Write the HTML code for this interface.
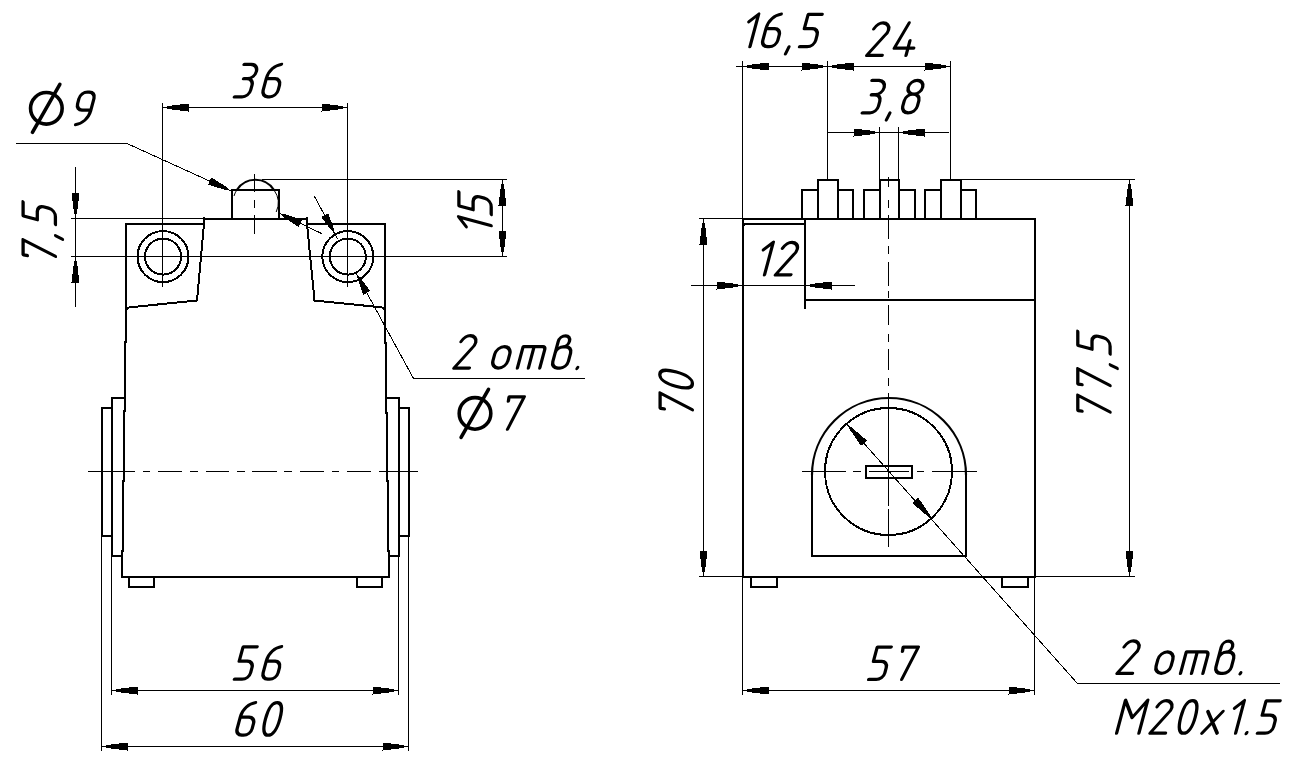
<!DOCTYPE html>
<html><head><meta charset="utf-8"><title>drawing</title>
<style>html,body{margin:0;padding:0;background:#fff;overflow:hidden}svg{display:block}</style>
</head><body>
<svg width="1296" height="771" viewBox="0 0 1296 771">
<rect width="1296" height="771" fill="#fff"/>
<g fill="none" stroke="#000" stroke-width="1" shape-rendering="crispEdges" stroke-linecap="butt">
<path d="M162.5,103 V286.5 M347.5,103 V286.5 M162,107.5 H348 M16,143.5 H127 L231.5,191 M278.6,213 L321.8,233.6 M262,179.5 H507 M71,218.5 H204 M71,256.5 H507 M502.5,179.5 V256.5 M75.5,167 V306.5 M254.5,174 V192 M254.5,200 V208 M254.5,215 V234 M88.1,471.5 H135.4 M142.7,471.5 H149.7 M158.3,471.5 H182.1 M190.2,471.5 H198.0 M205.6,471.5 H228.5 M237.2,471.5 H244.7 M252.0,471.5 H277.1 M284.4,471.5 H292.0 M300.0,471.5 H324.4 M331.7,471.5 H339.2 M346.8,471.5 H371.1 M379.2,471.5 H417.6 M111.5,556 V694.5 M398.5,556 V694.5 M101.5,536 V750.5 M408.5,536 V750.5 M111,690.5 H399 M101,746.5 H409 M585,378.5 H413.5 L356.3,273.5 M314.4,196.3 L337.5,239 M742.5,61 V219 M827.5,61 V180 M950.5,61 V180 M736,66.5 H951 M879.5,127 V180 M898.5,127 V180 M827.5,132.5 H948.5 M961,179.5 H1135 M699,218.5 H743 M699,576.5 H743 M1035,576.5 H1135 M703.5,218.5 V576.5 M1129.5,179.5 V576.5 M691,285.5 H855 M888.5,176.9 V186.7 M888.5,200.0 V208.1 M888.5,215.0 V239.0 M888.5,246.3 V253.9 M888.5,262.2 V286.2 M888.5,291.3 V298.0 M888.5,305.3 V325.4 M888.5,333.6 V341.8 M888.5,349.0 V370.0 M888.5,378.0 V386.3 M888.5,392.6 V506.3 M888.5,509.0 V547.0 M802.0,471.5 H846.0 M852.9,471.5 H861.0 M869.0,471.5 H909.0 M916.7,471.5 H924.3 M932.1,471.5 H976.8 M742.5,577 V695 M1034.5,577 V695 M742,690.5 H1035 M847.3,424.6 L1077.5,683.5 H1280"/>
</g>
<g fill="none" stroke="#000" stroke-width="2" shape-rendering="crispEdges" stroke-linecap="square" stroke-linejoin="miter">
<path d="M232,190 H279 V219 M232,190 V219 M204,219 H307 M204,218 V224 M307,218 V224 M126,224 H204 L197,300.5 L130,307.3 Q126,307.8 126,311 M126,224 V342 H125 V411 H124 V481 H123 V551 H122 V577 H389 V551 H388 V481 H387 V413 H386 V343 H385 V224 H307 L314.5,300.5 L381,307.3 Q385,307.8 385,311 M125,398 H112 V556 H122 M112,408 H102 V536 H112 M386,398 H399 V556 H389 M399,408 H409 V536 H399 M129,577 V587 H154 V577 M357,577 V587 H382 V577 M743,219 H1035 V577 H743 Z M743,228 Q743,224 746,224 H802 Q805,224 805,227 M805,219 V307.5 M805,300 H1035 M802,219 V190 H818 V180 H838 V190 H853 V219 M818,190 V219 M838,190 V219 M864,219 V190 H880 V180 H899 V190 H915 V219 M880,190 V219 M899,190 V219 M925,219 V190 H941 V180 H961 V190 H976 V219 M941,190 V219 M961,190 V219 M812,475 V556 H966 V475 M866,466 H912 V478 H866 Z M751,577 V587 H777 V577 M1002,577 V587 H1028 V577"/>
</g>
<g fill="none" stroke="#000" stroke-width="2" shape-rendering="crispEdges">
<circle cx="163" cy="256.6" r="25.5"/><circle cx="163" cy="256.6" r="18"/><circle cx="347.8" cy="256.6" r="25.5"/><circle cx="347.8" cy="256.6" r="18"/><circle cx="888.5" cy="471.5" r="63.5"/>
</g>
<g fill="none" stroke="#000" stroke-width="2.2" shape-rendering="geometricPrecision">
<path d="M236.8,190 A22,22 0 0 1 274,190 M812,475 A77,77 0 0 1 966,475"/>
</g>
<g fill="none" stroke="#000" stroke-width="1" shape-rendering="geometricPrecision">
<path d="M274,190 A22,22 0 0 1 276.2,212 M236.8,190 A22,22 0 0 0 234,196"/>
</g>
<g fill="#000" stroke="none" shape-rendering="crispEdges">
<polygon points="163.00,107.50 169.00,109.10 188.50,111.50 188.50,103.50 169.00,105.90"/><polygon points="347.00,107.50 341.00,105.90 321.50,103.50 321.50,111.50 341.00,109.10"/><polygon points="231.04,190.79 226.24,186.85 211.31,177.43 208.00,184.71 224.92,189.77"/><polygon points="279.05,213.22 283.78,217.24 298.54,226.94 301.98,219.72 285.16,214.35"/><polygon points="502.50,180.00 500.90,186.00 498.50,205.50 506.50,205.50 504.10,186.00"/><polygon points="502.50,256.00 504.10,250.00 506.50,230.50 498.50,230.50 500.90,250.00"/><polygon points="75.50,218.00 77.10,212.00 79.50,192.50 71.50,192.50 73.90,212.00"/><polygon points="75.50,257.00 73.90,263.00 71.50,282.50 79.50,282.50 77.10,263.00"/><polygon points="112.00,690.50 118.00,692.10 137.50,694.50 137.50,686.50 118.00,688.90"/><polygon points="398.00,690.50 392.00,688.90 372.50,686.50 372.50,694.50 392.00,692.10"/><polygon points="102.00,746.50 108.00,748.10 127.50,750.50 127.50,742.50 108.00,744.90"/><polygon points="408.00,746.50 402.00,744.90 382.50,742.50 382.50,750.50 402.00,748.10"/><polygon points="356.54,273.94 358.00,279.97 363.31,294.73 370.34,290.91 360.81,278.44"/><polygon points="334.96,233.96 333.49,227.93 328.17,213.17 321.15,217.01 330.68,229.46"/><polygon points="743.00,66.50 749.00,68.10 768.50,70.50 768.50,62.50 749.00,64.90"/><polygon points="827.00,66.50 821.00,64.90 801.50,62.50 801.50,70.50 821.00,68.10"/><polygon points="828.00,66.50 834.00,68.10 853.50,70.50 853.50,62.50 834.00,64.90"/><polygon points="950.00,66.50 944.00,64.90 924.50,62.50 924.50,70.50 944.00,68.10"/><polygon points="879.00,132.50 873.00,130.90 853.50,128.50 853.50,136.50 873.00,134.10"/><polygon points="899.00,132.50 905.00,134.10 924.50,136.50 924.50,128.50 905.00,130.90"/><polygon points="703.50,219.00 701.90,225.00 699.50,244.50 707.50,244.50 705.10,225.00"/><polygon points="703.50,576.00 705.10,570.00 707.50,550.50 699.50,550.50 701.90,570.00"/><polygon points="1129.50,180.00 1127.90,186.00 1125.50,205.50 1133.50,205.50 1131.10,186.00"/><polygon points="1129.50,576.00 1131.10,570.00 1133.50,550.50 1125.50,550.50 1127.90,570.00"/><polygon points="742.00,285.50 736.00,283.90 716.50,281.50 716.50,289.50 736.00,287.10"/><polygon points="806.00,285.50 812.00,287.10 831.50,289.50 831.50,281.50 812.00,283.90"/><polygon points="743.00,690.50 749.00,692.10 768.50,694.50 768.50,686.50 749.00,688.90"/><polygon points="1034.00,690.50 1028.00,688.90 1008.50,686.50 1008.50,694.50 1028.00,692.10"/><polygon points="847.63,424.97 850.45,430.51 861.02,445.88 866.97,440.54 852.83,428.37"/><polygon points="931.57,518.53 928.75,512.99 918.18,497.62 912.23,502.96 926.37,515.13"/>
</g>
<g fill="none" stroke="#000" stroke-width="3.3" stroke-linecap="round" stroke-linejoin="round">
<g transform="translate(0,96.8) skewX(-15)"><path transform="translate(234.40,0)" d="M1,-32.5 H8 A7.2,7.2 0 0 1 8,-18.1 H4.3 M8,-18.1 A6.5,6.5 0 0 1 14.5,-11.6 V-6.5 A6.5,6.5 0 0 1 8,0 H0"/><path transform="translate(261.40,0)" d="M11.4,-32.5 C5,-31.5 0.2,-26.5 0,-18.5 V-6.5 A6.5,6.5 0 0 0 6.5,0 H8.5 A6.5,6.5 0 0 0 15,-6.5 V-11.6 A6.5,6.5 0 0 0 8.5,-18.1 H0.2"/></g><g transform="translate(0,679.2) skewX(-15)"><path transform="translate(234.40,0)" d="M14,-32.3 H0 V-18.1 H8 A6.5,6.5 0 0 1 14.5,-11.6 V-6.5 A6.5,6.5 0 0 1 8,0 H0"/><path transform="translate(261.40,0)" d="M11.4,-32.5 C5,-31.5 0.2,-26.5 0,-18.5 V-6.5 A6.5,6.5 0 0 0 6.5,0 H8.5 A6.5,6.5 0 0 0 15,-6.5 V-11.6 A6.5,6.5 0 0 0 8.5,-18.1 H0.2"/></g><g transform="translate(0,735.2) skewX(-15)"><path transform="translate(235.40,0)" d="M11.4,-32.5 C5,-31.5 0.2,-26.5 0,-18.5 V-6.5 A6.5,6.5 0 0 0 6.5,0 H8.5 A6.5,6.5 0 0 0 15,-6.5 V-11.6 A6.5,6.5 0 0 0 8.5,-18.1 H0.2"/><path transform="translate(261.10,0)" d="M0.0,-16.3 C0.0,-26.73 2.59,-32.6 7.2,-32.6 C11.81,-32.6 14.4,-26.73 14.4,-16.3 C14.4,-5.87 11.81,0.0 7.2,0.0 C2.59,0.0 0.0,-5.87 0.0,-16.3 Z"/></g><g transform="translate(0,46.7) skewX(-15)"><path transform="translate(742.15,0)" d="M0,-25 L7.8,-32.6 V0"/><path transform="translate(761.10,0)" d="M11.4,-32.5 C5,-31.5 0.2,-26.5 0,-18.5 V-6.5 A6.5,6.5 0 0 0 6.5,0 H8.5 A6.5,6.5 0 0 0 15,-6.5 V-11.6 A6.5,6.5 0 0 0 8.5,-18.1 H0.2"/><path transform="translate(789.20,0)" d="M-0.2,0.2 L-1.8,7.1"/><path transform="translate(799.50,0)" d="M14,-32.3 H0 V-18.1 H8 A6.5,6.5 0 0 1 14.5,-11.6 V-6.5 A6.5,6.5 0 0 1 8,0 H0"/></g><g transform="translate(0,55.4) skewX(-15)"><path transform="translate(866.70,0)" d="M0,-26.5 C1.8,-30.5 4.5,-32.5 7.5,-32.5 C11.5,-32.5 15,-29.5 15,-25.5 C15,-23.2 14,-21.2 12.6,-19.8 L0,0 H15.5"/><path transform="translate(892.30,0)" d="M8.1,-32.5 L0,-7.2 H19.5 M13.7,-14.7 V0"/></g><g transform="translate(0,112.85) skewX(-15)"><path transform="translate(862.20,0)" d="M1,-32.5 H8 A7.2,7.2 0 0 1 8,-18.1 H4.3 M8,-18.1 A6.5,6.5 0 0 1 14.5,-11.6 V-6.5 A6.5,6.5 0 0 1 8,0 H0"/><path transform="translate(890.10,0)" d="M-0.2,0.2 L-1.8,7.1"/><path transform="translate(901.00,0)" d="M0.4,-25.6 A7.2,6.9 0 1 1 14.8,-25.6 A7.2,6.9 0 1 1 0.4,-25.6 Z M0,-6.5 V-12.2 A7.3,6.5 0 0 1 14.6,-12.2 V-6.5 A7.3,6.5 0 0 1 0,-6.5 Z"/></g><g transform="translate(0,274.8) skewX(-15)"><path transform="translate(756.75,0)" d="M0,-25 L7.8,-32.6 V0"/><path transform="translate(775.40,0)" d="M0,-26.5 C1.8,-30.5 4.5,-32.5 7.5,-32.5 C11.5,-32.5 15,-29.5 15,-25.5 C15,-23.2 14,-21.2 12.6,-19.8 L0,0 H15.5"/></g><g transform="translate(0,679.4) skewX(-15)"><path transform="translate(868.60,0)" d="M14,-32.3 H0 V-18.1 H8 A6.5,6.5 0 0 1 14.5,-11.6 V-6.5 A6.5,6.5 0 0 1 8,0 H0"/><path transform="translate(894.50,0)" d="M0.5,-28 L0,-32.3 H15.2 L7.2,0"/></g><g stroke-width="3.6"><circle cx="46.35" cy="108.35" r="15.8" fill="none"/><path d="M59.85,84.35 L32.45,132.30"/></g><g transform="translate(0,124.6) skewX(-15)"><path transform="translate(72.00,0) rotate(180 7.5 -16.25)" d="M11.4,-32.5 C5,-31.5 0.2,-26.5 0,-18.5 V-6.5 A6.5,6.5 0 0 0 6.5,0 H8.5 A6.5,6.5 0 0 0 15,-6.5 V-11.6 A6.5,6.5 0 0 0 8.5,-18.1 H0.2"/></g><g stroke-width="3.6"><circle cx="475" cy="413.4" r="15.8" fill="none"/><path d="M488.50,389.40 L461.10,437.35"/></g><g transform="translate(0,429.1) skewX(-15)"><path transform="translate(500.40,0)" d="M0.5,-28 L0,-32.3 H15.2 L7.2,0"/></g><g transform="translate(0,368.1) skewX(-15)"><path transform="translate(453.90,0)" d="M0,-26.5 C1.8,-30.5 4.5,-32.5 7.5,-32.5 C11.5,-32.5 15,-29.5 15,-25.5 C15,-23.2 14,-21.2 12.6,-19.8 L0,0 H15.5"/><path transform="translate(491.00,0)" d="M0,-7.5 V-14 A7.5,7.5 0 0 1 15,-14 V-7.5 A7.5,7.5 0 0 1 0,-7.5 Z"/><path transform="translate(517.40,0)" d="M0,0 V-21.5 H19.4 A3,3 0 0 1 22.4,-18.5 V0 M11,-21.5 V0"/><path transform="translate(551.10,0)" d="M0,-6.5 V-26.6 A5.6,5.6 0 0 1 11.2,-26.6 A5.6,5.3 0 0 1 5.6,-21.3 M0,-14.8 A6.5,6.5 0 0 1 6.5,-21.3 H9 A6.5,6.5 0 0 1 15.5,-14.8 V-6.5 A6.5,6.5 0 0 1 9,0 H6.5 A6.5,6.5 0 0 1 0,-6.5"/><path transform="translate(577.20,0)" d="M0.3,-0.6 L-0.1,0.4"/></g><g transform="translate(0,673.4) skewX(-15)"><path transform="translate(1117.00,0)" d="M0,-26.5 C1.8,-30.5 4.5,-32.5 7.5,-32.5 C11.5,-32.5 15,-29.5 15,-25.5 C15,-23.2 14,-21.2 12.6,-19.8 L0,0 H15.5"/><path transform="translate(1154.10,0)" d="M0,-7.5 V-14 A7.5,7.5 0 0 1 15,-14 V-7.5 A7.5,7.5 0 0 1 0,-7.5 Z"/><path transform="translate(1180.50,0)" d="M0,0 V-21.5 H19.4 A3,3 0 0 1 22.4,-18.5 V0 M11,-21.5 V0"/><path transform="translate(1214.20,0)" d="M0,-6.5 V-26.6 A5.6,5.6 0 0 1 11.2,-26.6 A5.6,5.3 0 0 1 5.6,-21.3 M0,-14.8 A6.5,6.5 0 0 1 6.5,-21.3 H9 A6.5,6.5 0 0 1 15.5,-14.8 V-6.5 A6.5,6.5 0 0 1 9,0 H6.5 A6.5,6.5 0 0 1 0,-6.5"/><path transform="translate(1240.30,0)" d="M0.3,-0.6 L-0.1,0.4"/></g><g transform="translate(0,733.2) skewX(-15)"><path transform="translate(1116.60,0)" d="M0,0 V-33 L11.4,-15.6 L22.3,-33 V0"/><path transform="translate(1150.00,0)" d="M0,-26.5 C1.8,-30.5 4.5,-32.5 7.5,-32.5 C11.5,-32.5 15,-29.5 15,-25.5 C15,-23.2 14,-21.2 12.6,-19.8 L0,0 H15.5"/><path transform="translate(1176.50,0)" d="M0.0,-16.3 C0.0,-26.73 2.59,-32.6 7.2,-32.6 C11.81,-32.6 14.4,-26.73 14.4,-16.3 C14.4,-5.87 11.81,0.0 7.2,0.0 C2.59,0.0 0.0,-5.87 0.0,-16.3 Z"/><path transform="translate(1201.90,0)" d="M0.1,-21.8 L15.3,0 M15.3,-21.8 L0,0"/><path transform="translate(1227.80,0)" d="M0,-25 L7.8,-32.6 V0"/><path transform="translate(1246.40,0)" d="M0.3,-0.6 L-0.1,0.4"/><path transform="translate(1257.40,0)" d="M14,-32.3 H0 V-18.1 H8 A6.5,6.5 0 0 1 14.5,-11.6 V-6.5 A6.5,6.5 0 0 1 8,0 H0"/></g><g transform="translate(491.2,233.36) rotate(-90) skewX(-15)"><path transform="translate(0.00,0)" d="M0,-25 L7.8,-32.6 V0"/><path transform="translate(18.85,0)" d="M14,-32.3 H0 V-18.1 H8 A6.5,6.5 0 0 1 14.5,-11.6 V-6.5 A6.5,6.5 0 0 1 8,0 H0"/></g><g transform="translate(55.4,263.5) rotate(-90) skewX(-15)"><path transform="translate(0.00,0)" d="M0.5,-28 L0,-32.3 H15.2 L7.2,0"/><path transform="translate(28.00,0)" d="M-0.2,0.2 L-1.8,7.1"/><path transform="translate(39.00,0)" d="M14,-32.3 H0 V-18.1 H8 A6.5,6.5 0 0 1 14.5,-11.6 V-6.5 A6.5,6.5 0 0 1 8,0 H0"/></g><g transform="translate(692.4,416.85) rotate(-90) skewX(-15)"><path transform="translate(0.00,0)" d="M0.5,-28 L0,-32.3 H15.2 L7.2,0"/><path transform="translate(26.15,0)" d="M0.0,-16.3 C0.0,-26.73 2.59,-32.6 7.2,-32.6 C11.81,-32.6 14.4,-26.73 14.4,-16.3 C14.4,-5.87 11.81,0.0 7.2,0.0 C2.59,0.0 0.0,-5.87 0.0,-16.3 Z"/></g><g transform="translate(1110.1,419.1) rotate(-90) skewX(-15)"><path transform="translate(0.00,0)" d="M0.5,-28 L0,-32.3 H15.2 L7.2,0"/><path transform="translate(26.50,0)" d="M0.5,-28 L0,-32.3 H15.2 L7.2,0"/><path transform="translate(54.45,0)" d="M-0.2,0.2 L-1.8,7.1"/><path transform="translate(65.10,0)" d="M14,-32.3 H0 V-18.1 H8 A6.5,6.5 0 0 1 14.5,-11.6 V-6.5 A6.5,6.5 0 0 1 8,0 H0"/></g>
</g>
</svg>
</body></html>
